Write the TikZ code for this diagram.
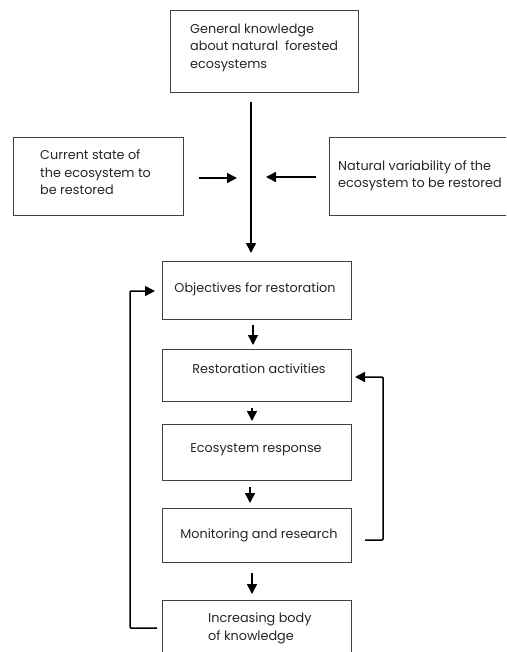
\documentclass[tikz,border=0pt]{standalone}
\usepackage{fontspec}
\setmainfont{Poppins}
\usetikzlibrary{arrows.meta}
\tikzset{
  box/.style={draw=black!75, line width=0.7pt, inner sep=0pt},
  lbl/.style={align=left, inner sep=0pt, font=\fontsize{12.8}{17.5}\selectfont, text=black!85},
  arr/.style={line width=1.5pt, -{Triangle[width=10pt,length=10pt]}},
  loop/.style={line width=1.5pt, -{Triangle[width=10pt,length=10pt]}, rounded corners=1pt}
}
\begin{document}
\begin{tikzpicture}[x=1pt,y=-1pt]
\clip (0,0) rectangle (506,652);
\fill[white] (0,0) rectangle (506,652);
% boxes
\node[box, minimum width=188pt, minimum height=82pt] (top) at (264,51) {};
\node[box, minimum width=170pt, minimum height=78pt] (left) at (98,176) {};
\node[box, minimum width=191pt, minimum height=78pt] (right) at (424.5,176) {};
\node[box, minimum width=189pt, minimum height=58pt] (obj) at (256.5,290) {};
\node[box, minimum width=189pt, minimum height=52pt] (ra) at (256.5,375) {};
\node[box, minimum width=189pt, minimum height=56pt] (er) at (256.5,452) {};
\node[box, minimum width=189pt, minimum height=54pt] (mr) at (256.5,535) {};
\node[box, minimum width=189pt, minimum height=65pt] (ib) at (256.5,632.5) {};
% labels
\node[lbl, anchor=west] (toplbl) at (190,47.5) {General knowledge\\about natural\ \ forested\\ecosystems};
\node[lbl, anchor=west] (leftlbl) at (40,172.5) {Current state of\\the ecosystem to\\be restored};
\node[lbl, anchor=west] (rightlbl) at (338,176) {Natural variability of the\\ecosystem to be restored};
\node[lbl] (objlbl) at (255,289) {Objectives for restoration};
\node[lbl] (ralbl) at (259,369) {Restoration activities};
\node[lbl] (erlbl) at (256,450) {Ecosystem response};
\node[lbl] (mrlbl) at (259,535) {Monitoring and research};
\node[lbl, anchor=west] (iblbl) at (208,628.5) {Increasing body\\of knowledge};
% connector endpoints
\coordinate (m1) at (251,102);
\coordinate (m2) at (251,253);
\coordinate (l1) at (199,178);
\coordinate (l2) at (237,178);
\coordinate (r1) at (316,177);
\coordinate (r2) at (266,177);
\coordinate (a1) at (253,325);
\coordinate (a2) at (253,345);
\coordinate (b1) at (252,408);
\coordinate (b2) at (252,421);
\coordinate (c1) at (250,487);
\coordinate (c2) at (250,503);
\coordinate (d1) at (252,573);
\coordinate (d2) at (252,594);
\coordinate (fr1) at (365,540);
\coordinate (fr2) at (355,377);
\coordinate (fl1) at (157,628);
\coordinate (fl2) at (155,291);
% arrows
\draw[arr] (m1) -- (m2);
\draw[arr] (l1) -- (l2);
\draw[arr] (r1) -- (r2);
\draw[arr] (a1) -- (a2);
\draw[arr] (b1) -- (b2);
\draw[arr] (c1) -- (c2);
\draw[arr] (d1) -- (d2);
\draw[loop] (fr1) -- (383,540) -- (383,377) -- (fr2);
\draw[loop] (fl1) -- (130,628) -- (130,291) -- (fl2);
\end{tikzpicture}
\end{document}
